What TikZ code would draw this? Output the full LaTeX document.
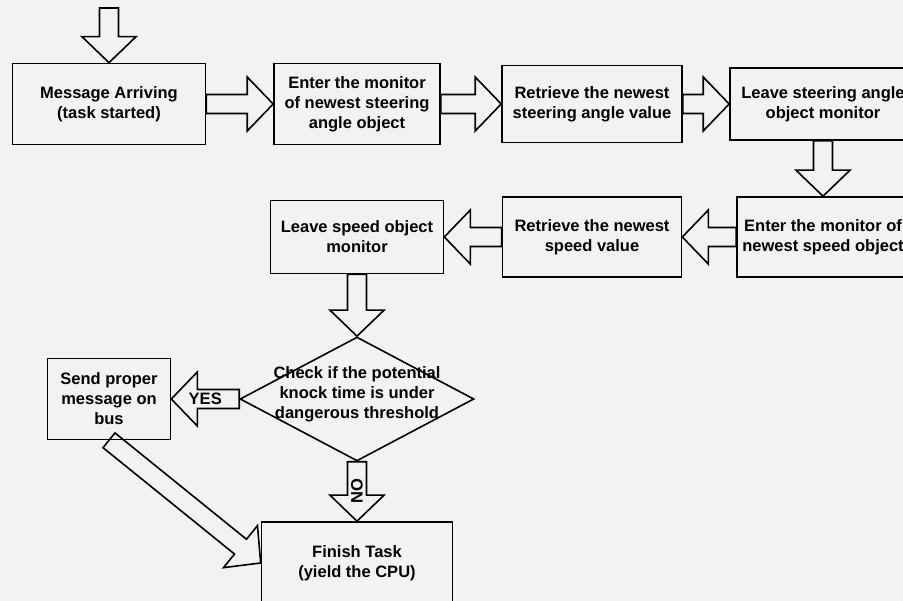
\documentclass[tikz,border=0pt]{standalone}
\usepackage{fontspec}
\setmainfont{Liberation Sans}
\usetikzlibrary{shapes.geometric,calc}
\definecolor{paper}{gray}{0.95}
\newcommand{\boxfont}{\fontsize{16.5}{20}\selectfont\bfseries}
\tikzset{
	stepbox/.style={draw, line width=1.6pt, align=center, font=\boxfont, inner sep=0pt},
	decision/.style={draw, diamond, line width=1.6pt, inner sep=0pt, font=\boxfont, minimum width=234pt, minimum height=124pt},
	blockarr/.style={draw, line width=1.6pt, line join=miter},
}
\newcommand{\blockarrow}[2]{%
	\coordinate (bah) at ($(#2)!26pt!(#1)$);
	\draw[blockarr] ($(#1)!9.5pt!90:(#2)$) -- ($(bah)!9.5pt!-90:(#1)$) -- ($(bah)!27pt!-90:(#1)$) -- (#2)
		-- ($(bah)!27pt!90:(#1)$) -- ($(bah)!9.5pt!90:(#1)$) -- ($(#1)!9.5pt!-90:(#2)$) -- cycle;
}
\begin{document}
\begin{tikzpicture}[x=1pt,y=-1pt]
	\useasboundingbox (0,0) rectangle (903,601);
	\fill[paper] (0,0) rectangle (903,601);
	\node[stepbox, minimum width=193pt, minimum height=81pt] (msg) at (109,104) {Message Arriving\\(task started)};
	\node[stepbox, minimum width=166pt, minimum height=81pt] (enterangle) at (357,104) {Enter the monitor\\of newest steering\\angle object};
	\node[stepbox, minimum width=180pt, minimum height=77pt] (getangle) at (592,104) {Retrieve the newest\\steering angle value};
	\node[stepbox, minimum width=186pt, minimum height=72pt] (leaveangle) at (823,104) {Leave steering angle\\object monitor};
	\node[stepbox, minimum width=172pt, minimum height=80pt] (enterspeed) at (823,237) {Enter the monitor of\\newest speed object};
	\node[stepbox, minimum width=179pt, minimum height=80pt] (getspeed) at (592,237) {Retrieve the newest\\speed value};
	\node[stepbox, minimum width=173pt, minimum height=73pt] (leavespeed) at (357,237) {Leave speed object\\monitor};
	\node[decision] (check) at (357,399) {\makebox[0pt]{\smash{\begin{tabular}{@{}c@{}}Check if the potential\\knock time is under\\dangerous threshold\end{tabular}}}};
	\node[stepbox, minimum width=123pt, minimum height=81pt] (send) at (109,399) {Send proper\\message on\\bus};
	\node[stepbox, minimum width=191pt, minimum height=82pt] (finish) at (357,563) {Finish Task\\(yield the CPU)};
	\coordinate (start) at (109,8);
	\blockarrow{start}{msg.north}
	\blockarrow{msg.east}{enterangle.west}
	\blockarrow{enterangle.east}{getangle.west}
	\blockarrow{getangle.east}{leaveangle.west}
	\blockarrow{leaveangle.south}{enterspeed.north}
	\blockarrow{enterspeed.west}{getspeed.east}
	\blockarrow{getspeed.west}{leavespeed.east}
	\blockarrow{leavespeed.south}{check.north}
	\blockarrow{check.west}{send.east}
	\blockarrow{check.south}{finish.north}
	\blockarrow{send.south}{finish.west}
	\path (check.west) -- (send.east) node[midway, font=\boxfont] {YES};
	\path (check.south) -- (finish.north) node[midway, font=\boxfont, rotate=90] {NO};
\end{tikzpicture}
\end{document}
